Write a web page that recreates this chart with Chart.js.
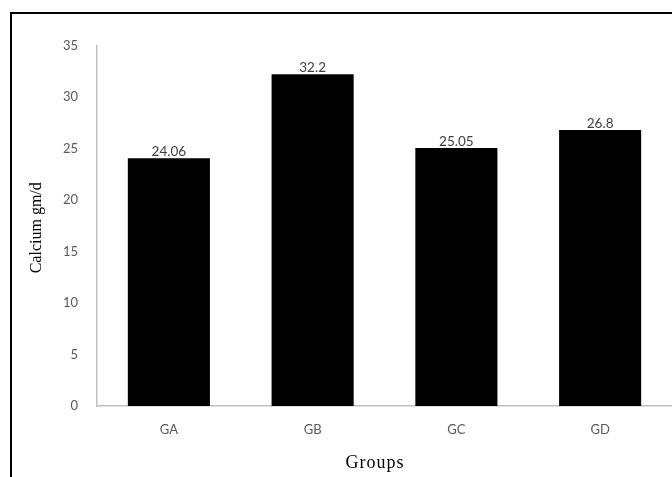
<!DOCTYPE html>
<html>
<head>
<meta charset="utf-8">
<script src="https://cdn.jsdelivr.net/npm/chart.js@4/dist/chart.umd.min.js"></script>
<style>
  html, body { margin: 0; padding: 0; background: #fff; overflow: hidden; }
  #wrap { position: relative; width: 672px; height: 477px; }
</style>
</head>
<body>
<div id="wrap"><canvas id="c" width="672" height="477"></canvas></div>
<script>
// Daily calcium intake per group
const categories = ['GA', 'GB', 'GC', 'GD'];
const calcium = [24.06, 32.2, 25.05, 26.8];
const valueLabels = ['24.06', '32.2', '25.05', '26.8'];
const yMin = 0, yMax = 35, yStep = 5;
const yTitle = 'Calcium gm/d';
const xTitle = 'Groups';

const tickFont = { family: 'Lato, "Liberation Sans", sans-serif', size: 13 };
const tickColor = '#595959';
const axisColor = '#bfbfbf';

// Outer frame, axis titles and value labels
const decorations = {
  id: 'decorations',
  beforeDraw(chart) {
    const ctx = chart.ctx;
    ctx.save();
    ctx.fillStyle = '#fff';
    ctx.fillRect(0, 0, chart.width, chart.height);
    ctx.strokeStyle = '#000';
    ctx.lineWidth = 2;
    ctx.beginPath();
    ctx.moveTo(11, chart.height + 2);
    ctx.lineTo(11, 13);
    ctx.lineTo(chart.width + 2, 13);
    ctx.stroke();
    ctx.restore();
  },
  afterDatasetsDraw(chart) {
    const ctx = chart.ctx;
    const area = chart.chartArea;
    ctx.save();
    // value labels above bars
    ctx.font = '13.5px Lato, "Liberation Sans", sans-serif';
    ctx.fillStyle = '#404040';
    ctx.textAlign = 'center';
    ctx.textBaseline = 'bottom';
    chart.getDatasetMeta(0).data.forEach((bar, i) => {
      ctx.fillText(valueLabels[i], bar.x, bar.y);
    });
    // y axis title
    ctx.fillStyle = '#000';
    ctx.font = '16px "Liberation Serif", "DejaVu Serif", serif';
    ctx.textBaseline = 'middle';
    ctx.translate(37, (area.top + area.bottom) / 2 + 2);
    ctx.rotate(-Math.PI / 2);
    ctx.fillText(yTitle, 0, 0);
    ctx.restore();
    // x axis title
    ctx.save();
    ctx.fillStyle = '#000';
    ctx.font = '18px "Liberation Serif", "DejaVu Serif", serif';
    ctx.letterSpacing = '1px';
    ctx.textAlign = 'center';
    ctx.textBaseline = 'middle';
    ctx.fillText(xTitle, 375, 463);
    ctx.restore();
  }
};

new Chart(document.getElementById('c'), {
  type: 'bar',
  data: {
    labels: categories,
    datasets: [{
      data: calcium,
      backgroundColor: '#000',
      borderWidth: 0,
      barPercentage: 0.571,
      categoryPercentage: 1
    }]
  },
  options: {
    responsive: false,
    animation: false,
    devicePixelRatio: 1,
    layout: { padding: { top: 45.5, left: 0, right: 0, bottom: 0 } },
    plugins: {
      legend: { display: false },
      tooltip: { enabled: false }
    },
    scales: {
      x: {
        grid: { display: false, drawTicks: false },
        border: { display: true, color: axisColor, width: 1.5 },
        ticks: { color: tickColor, font: tickFont, padding: 16, maxRotation: 0 },
        afterFit(scale) { scale.height = 71; }
      },
      y: {
        min: yMin,
        max: yMax,
        grid: { display: false, drawTicks: false },
        border: { display: true, color: axisColor, width: 1.5 },
        ticks: { stepSize: yStep, color: tickColor, font: tickFont, padding: 19 },
        afterFit(scale) { scale.width = 97; }
      }
    }
  },
  plugins: [decorations]
});
</script>
</body>
</html>
